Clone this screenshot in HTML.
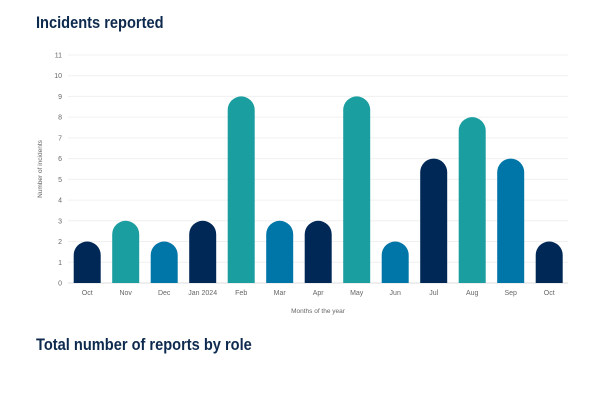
<!DOCTYPE html><html><head><style>body{margin:0;background:#fff;width:600px;height:400px;overflow:hidden;font-family:"Liberation Sans",sans-serif}
h2{position:absolute;left:36px;margin:0;font-size:17px;color:#0d2a4e;font-weight:bold;transform:scaleX(0.86);transform-origin:0 0;white-space:nowrap}</style></head><body>
<h2 style="top:13px">Incidents reported</h2>
<h2 style="top:335px">Total number of reports by role</h2>
<svg width="600" height="400" style="position:absolute;left:0;top:0" font-family="Liberation Sans,sans-serif">
<g id="g"></g></svg>
<script>
const g=document.getElementById('g');let s='';
const y0=283,st=20.73;
for(let i=0;i<=11;i++){const y=y0-i*st;s+=`<line x1="68" x2="568" y1="${y}" y2="${y}" stroke="${i==0?'#ddd':'#f0f0f0'}"/><text x="62" y="${y+2.5}" font-size="7" fill="#666" text-anchor="end">${i}</text>`}
const d=[["Oct",2,"#002856"],["Nov",3,"#1a9e9f"],["Dec",2,"#0075a8"],["Jan 2024",3,"#002856"],["Feb",9,"#1a9e9f"],["Mar",3,"#0075a8"],["Apr",3,"#002856"],["May",9,"#1a9e9f"],["Jun",2,"#0075a8"],["Jul",6,"#002856"],["Aug",8,"#1a9e9f"],["Sep",6,"#0075a8"],["Oct",2,"#002856"]];
d.forEach((b,i)=>{const c=68+19.2+38.5*i,w=27,h=b[1]*st,t=y0-h,r=13.5;
s+=`<path d="M${c-r} ${y0}V${t+r}A${r} ${r} 0 0 1 ${c+r} ${t+r}V${y0}Z" fill="${b[2]}"/><text x="${c}" y="295" font-size="7" fill="#666" text-anchor="middle">${b[0]}</text>`});
s+=`<text x="318" y="313" font-size="6.5" fill="#666" text-anchor="middle">Months of the year</text><text transform="translate(42 169) rotate(-90)" font-size="6.5" fill="#666" text-anchor="middle">Number of incidents</text>`;
g.innerHTML=s;
</script></body></html>
